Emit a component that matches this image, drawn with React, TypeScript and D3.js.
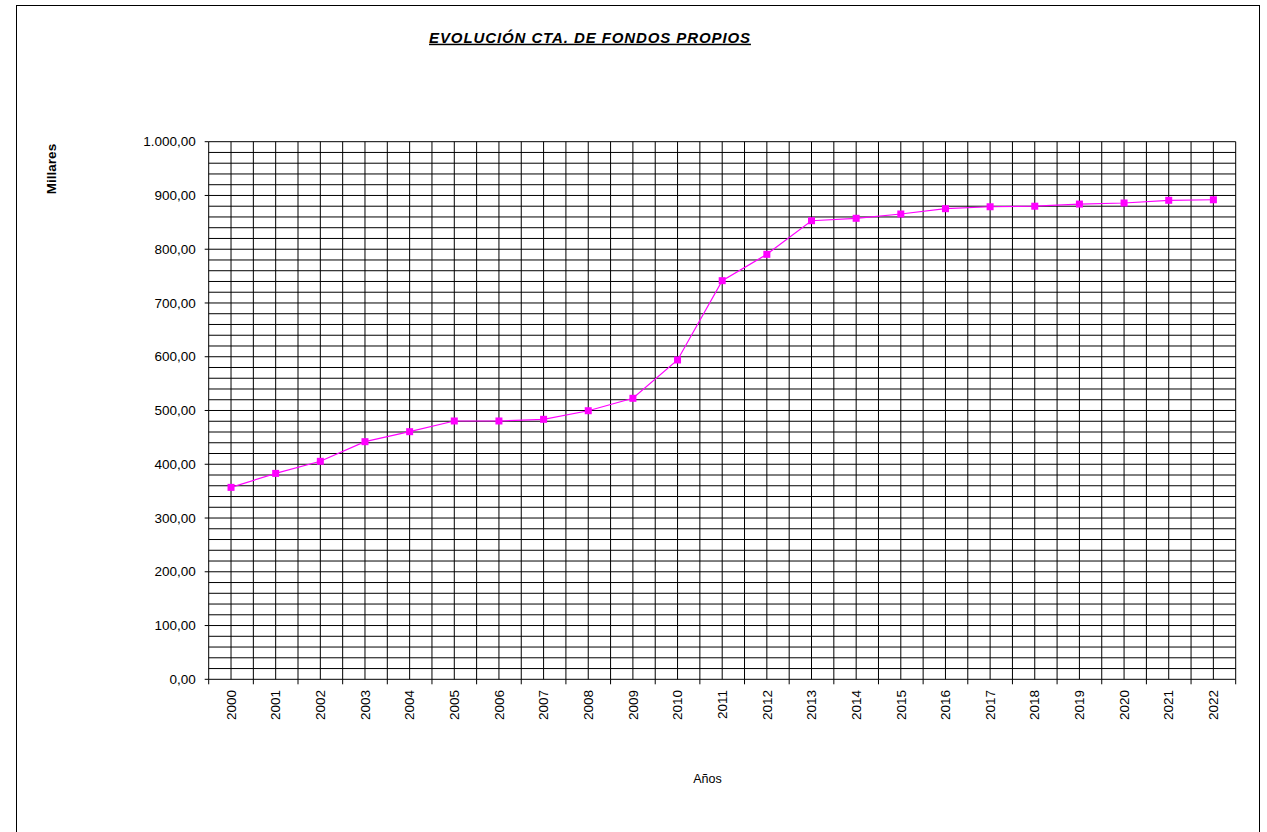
import * as d3 from 'd3';

const years = ['2000', '2001', '2002', '2003', '2004', '2005', '2006', '2007', '2008', '2009', '2010', '2011',
  '2012', '2013', '2014', '2015', '2016', '2017', '2018', '2019', '2020', '2021', '2022'];
const fondos = [357, 383, 405.5, 442, 460.6, 480.5, 480.5, 483.6, 499.6, 522.7, 594, 741.5,
  790.5, 853, 857.5, 865.5, 875.4, 879, 880, 884, 886, 891, 892];
const yTicks = [0, 100, 200, 300, 400, 500, 600, 700, 800, 900, 1000];

const W = 1267;
const H = 832;
const margin = { top: 141.7, right: 31.3, bottom: 152.7, left: 208.7 };
const font = 'Liberation Sans, Arial, sans-serif';

export default function App() {
  const w = W - margin.left - margin.right;
  const h = H - margin.top - margin.bottom;
  const x = d3.scaleBand().domain(years).range([0, w]);
  const y = d3.scaleLinear().domain([0, 1000]).range([h, 0]);
  const bw = x.bandwidth();
  const cx = (d: string) => (x(d) ?? 0) + bw / 2;

  const minor = d3.range(0, 1001, 20);
  const vlines = d3.range(0, years.length * 2 + 1).map((i) => (i * bw) / 2);
  const fmt = (v: number) => d3.format(',.2f')(v).replace(/,/g, '#').replace('.', ',').replace(/#/g, '.');

  const line = d3.line<number>()
    .x((_, i) => cx(years[i]))
    .y((d) => y(d));

  return (
    <svg width={W} height={H} style={{ position: 'absolute', left: 0, top: 0, background: '#fff' }}>
      <rect x={16.5} y={5.5} width={1243} height={H + 10} fill="none" stroke="#000" strokeWidth={1} />

      <text x={590} y={42.7} textAnchor="middle" fontFamily={font} fontSize={15} fontWeight="bold"
        fontStyle="italic" textDecoration="underline" letterSpacing={0.9}>EVOLUCIÓN CTA. DE FONDOS PROPIOS</text>

      <text transform="translate(56,169) rotate(-90)" textAnchor="middle" fontFamily={font} fontSize={13.5}
        fontWeight="bold">Millares</text>

      <text x={707.5} y={783.3} textAnchor="middle" fontFamily={font} fontSize={12.5}>Años</text>

      <g transform={`translate(${margin.left},${margin.top})`}>
        {minor.map((v) => (
          <line key={'h' + v} x1={0} x2={w} y1={y(v)} y2={y(v)} stroke="#000" strokeWidth={1} />
        ))}
        {vlines.map((p, i) => (
          <line key={'v' + i} x1={p} x2={p} y1={0} y2={h} stroke="#000" strokeWidth={1} />
        ))}

        {yTicks.map((v) => (
          <g key={'yt' + v}>
            <line x1={-4} x2={0} y1={y(v)} y2={y(v)} stroke="#000" />
            <text x={-13} y={y(v)} dy="0.35em" textAnchor="end" fontFamily={font} fontSize={13.5}>{fmt(v)}</text>
          </g>
        ))}

        {d3.range(0, years.length + 1).map((i) => (
          <line key={'xt' + i} x1={i * bw} x2={i * bw} y1={h} y2={h + 5} stroke="#000" />
        ))}
        {years.map((d) => (
          <text key={'xl' + d} transform={`translate(${cx(d)},${h + 10.7}) rotate(-90)`} textAnchor="end"
            dy="0.35em" fontFamily={font} fontSize={13.5}>{d}</text>
        ))}

        <path d={line(fondos) ?? ''} fill="none" stroke="#ff00ff" strokeWidth={1.2} />
        {fondos.map((v, i) => (
          <rect key={'m' + i} x={cx(years[i]) - 3.5} y={y(v) - 3.5} width={7} height={7} fill="#ff00ff" />
        ))}
      </g>
    </svg>
  );
}
